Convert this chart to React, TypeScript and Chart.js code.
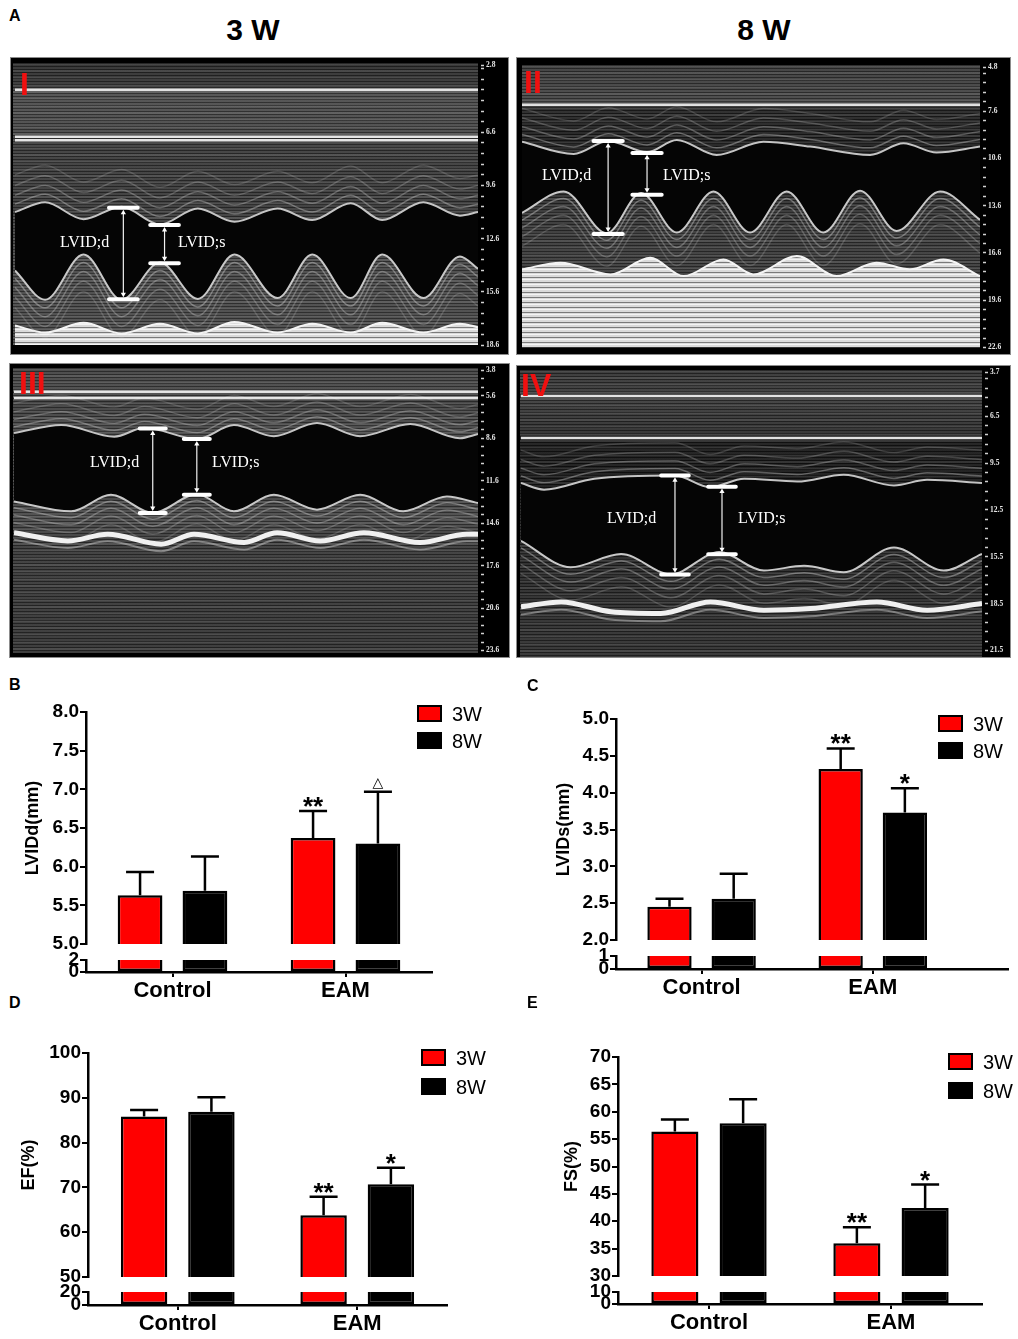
import React, { useEffect, useRef } from 'react';
import { Chart, registerables } from 'chart.js';

Chart.register(...registerables);

const SANS = '"Liberation Sans", Arial, Helvetica, sans-serif';
const SERIF = '"Liberation Serif", "Times New Roman", serif';
Chart.defaults.font.family = SANS;
Chart.defaults.color = '#000';

// ---------------- B–E: bar charts with a broken y axis ----------------
const groups = ['Control', 'EAM'];
const seriesNames = ['3W', '8W'];
const seriesColors = ['#ff0000', '#000000'];

// B  LVIDd (mm)
const lviddMean3W = [5.63, 6.37];
const lviddMean8W = [5.69, 6.3];
const lviddErr3W = [5.93, 6.72]; // top of the error bar
const lviddErr8W = [6.13, 6.97];
const lviddSig3W = ['', '**'];
const lviddSig8W = ['', '\u25B3'];
const lviddTicks = [5.0, 5.5, 6.0, 6.5, 7.0, 7.5, 8.0];
const lviddLowTicks = [0, 2];

// C  LVIDs (mm)
const lvidsMean3W = [2.45, 4.32];
const lvidsMean8W = [2.56, 3.73];
const lvidsErr3W = [2.56, 4.6];
const lvidsErr8W = [2.9, 4.06];
const lvidsSig3W = ['', '**'];
const lvidsSig8W = ['', '*'];
const lvidsTicks = [2.0, 2.5, 3.0, 3.5, 4.0, 4.5, 5.0];
const lvidsLowTicks = [0, 1];

// D  EF (%)
const efMean3W = [85.8, 63.8];
const efMean8W = [86.9, 70.7];
const efErr3W = [87.3, 67.9];
const efErr8W = [90.1, 74.4];
const efSig3W = ['', '**'];
const efSig8W = ['', '*'];
const efTicks = [50, 60, 70, 80, 90, 100];
const efLowTicks = [0, 20];

// E  FS (%)
const fsMean3W = [56.4, 36.0];
const fsMean8W = [57.9, 42.4];
const fsErr3W = [58.6, 38.9];
const fsErr8W = [62.3, 46.7];
const fsSig3W = ['', '**'];
const fsSig8W = ['', '*'];
const fsTicks = [30, 35, 40, 45, 50, 55, 60, 65, 70];
const fsLowTicks = [0, 10];

// ---------------- A: M-mode echo panels (traced wall contours, depth in mm, time in % of sweep) ----------------
const p1Time = [0, 6.5, 14.8, 23, 31.3, 39.5, 47.4, 56.7, 64.2, 72.5, 79.3, 88.2, 96.1, 100];
const p1Septum = [11.1, 10.55, 11.5, 10.8, 11.8, 10.9, 11.65, 10.9, 11.55, 10.6, 11.55, 10.55, 11.3, 11.1];
const p1Posterior = [14.4, 16.05, 13.5, 16.05, 13.95, 16.0, 13.5, 15.95, 13.5, 15.95, 13.5, 15.95, 13.6, 14.3];
const p1Band = [17.5, 17.9, 17.35, 17.95, 17.4, 17.95, 17.3, 17.9, 17.4, 17.9, 17.35, 17.9, 17.4, 17.6];
const p1Lines = [4.2, 6.85, 7.05];
const p1Depth = [2.8, 6.6, 9.6, 12.6, 15.6, 18.6];
const p1LVIDd = [23.4, 10.85, 16.02];
const p1LVIDs = [32.3, 11.83, 13.99];

const p2SeptumTime = [0, 11.3, 18.8, 27.3, 33.8, 42.5, 52.7, 62.9, 76.0, 83.3, 90.5, 100];
const p2Septum = [9.54, 10.32, 9.49, 10.2, 9.43, 10.38, 9.54, 9.85, 10.38, 9.64, 10.23, 9.85];
const p2PosteriorTime = [0, 9.1, 18.5, 26, 33.8, 41.8, 49.8, 57.8, 65.8, 73.8, 81.8, 91.3, 100];
const p2Posterior = [14.06, 12.7, 15.35, 12.8, 15.3, 12.7, 15.3, 12.7, 15.3, 12.65, 15.2, 12.7, 14.5];
const p2BandTime = [0, 8.4, 19.3, 28, 35.3, 44, 50.5, 60, 68.7, 77.4, 84.7, 92, 100];
const p2Band = [17.64, 17.22, 17.96, 16.9, 18.07, 17.01, 17.96, 16.8, 18.07, 17.22, 17.64, 17.01, 18.07];
const p2Lines = [7.2];
const p2Depth = [4.8, 7.6, 10.6, 13.6, 16.6, 19.6, 22.6];
const p2LVIDd = [18.8, 9.49, 15.39];
const p2LVIDs = [27.3, 10.25, 12.9];

const p3SeptumTime = [0, 10.2, 21.6, 28.1, 39.5, 47.4, 56, 65.3, 74.6, 85.4, 96.1, 100];
const p3Septum = [8.22, 7.66, 8.48, 7.85, 8.64, 7.66, 8.45, 7.52, 8.45, 7.59, 8.59, 8.29];
const p3PosteriorTime = [0, 12.3, 20.9, 29.9, 39.4, 47.4, 56, 65.3, 74.6, 83.9, 93.3, 100];
const p3Posterior = [13.06, 13.76, 12.59, 13.87, 12.55, 13.76, 12.59, 13.64, 12.59, 13.76, 12.71, 13.17];
const p3BandTime = [0, 11.6, 20.2, 31.7, 38.8, 49.6, 56.7, 66, 75.4, 87.5, 97.6, 100];
const p3Band = [15.27, 15.85, 15.38, 16.08, 15.38, 15.96, 15.27, 15.85, 15.27, 15.96, 15.38, 15.38];
const p3Lines = [5.3, 5.75];
const p3Depth = [3.8, 5.6, 8.6, 11.6, 14.6, 17.6, 20.6, 23.6];
const p3LVIDd = [29.9, 7.9, 13.87];
const p3LVIDs = [39.4, 8.64, 12.59];

const p4SeptumTime = [0, 5, 15.9, 33.4, 41, 48.4, 59.9, 70, 80.9, 88.1, 100];
const p4Septum = [10.78, 11.2, 10.5, 10.3, 11.05, 10.5, 10.68, 10.25, 10.93, 10.57, 10.78];
const p4PosteriorTime = [0, 10.8, 21.7, 32.5, 43, 52.7, 61.4, 70, 80.9, 91.7, 100];
const p4Posterior = [14.48, 16.17, 15.32, 16.62, 15.2, 16.38, 16.07, 16.49, 14.9, 16.38, 15.32];
const p4BandTime = [0, 8.7, 19.5, 30.3, 41.1, 52.7, 62.8, 77.2, 88.1, 100];
const p4Band = [18.7, 18.39, 19.02, 19.13, 18.39, 18.92, 18.81, 18.39, 18.92, 18.49];
const p4Lines = [5.2, 7.9];
const p4Depth = [3.7, 6.5, 9.5, 12.5, 15.5, 18.5, 21.5];
const p4LVIDd = [33.4, 10.29, 16.64];
const p4LVIDs = [43.6, 11.01, 15.34];

// echo layers drawn parallel to the traced walls (mm away from the cavity)
const wallLayers = [0.45, 0.95, 1.5, 2.1];

// ---------------- layout ----------------
const TOP_PAD = 22;
const X_AXIS_H = 34;

interface BarBox {
  left: number; right: number;
  areaLeft: number; areaTop: number; areaRight: number; areaBottom: number;
  upperBottom: number; lowerTop: number;
  titleX: number; xMax: number;
  legendX: number; legendY: number; legendGap: number;
}

interface BarSpec {
  title: string; decimals: number;
  mean3W: number[]; mean8W: number[]; err3W: number[]; err8W: number[];
  sig3W: string[]; sig8W: string[];
  ticks: number[]; lowTicks: number[];
  box: BarBox;
}

const barSpecs: BarSpec[] = [
  {
    title: 'LVIDd(mm)', decimals: 1,
    mean3W: lviddMean3W, mean8W: lviddMean8W, err3W: lviddErr3W, err8W: lviddErr8W,
    sig3W: lviddSig3W, sig8W: lviddSig8W, ticks: lviddTicks, lowTicks: lviddLowTicks,
    box: { left: 0, right: 509, areaLeft: 86, areaTop: 712, areaRight: 432, areaBottom: 972, upperBottom: 944, lowerTop: 960, titleX: 33, xMax: 1.5, legendX: 417, legendY: 705, legendGap: 27 },
  },
  {
    title: 'LVIDs(mm)', decimals: 1,
    mean3W: lvidsMean3W, mean8W: lvidsMean8W, err3W: lvidsErr3W, err8W: lvidsErr8W,
    sig3W: lvidsSig3W, sig8W: lvidsSig8W, ticks: lvidsTicks, lowTicks: lvidsLowTicks,
    box: { left: 510, right: 1018, areaLeft: 616, areaTop: 719, areaRight: 1008, areaBottom: 969, upperBottom: 940, lowerTop: 956, titleX: 564, xMax: 1.79, legendX: 938, legendY: 715, legendGap: 27 },
  },
  {
    title: 'EF(%)', decimals: 0,
    mean3W: efMean3W, mean8W: efMean8W, err3W: efErr3W, err8W: efErr8W,
    sig3W: efSig3W, sig8W: efSig8W, ticks: efTicks, lowTicks: efLowTicks,
    box: { left: 0, right: 509, areaLeft: 88, areaTop: 1053, areaRight: 447, areaBottom: 1305, upperBottom: 1277, lowerTop: 1292, titleX: 29, xMax: 1.5, legendX: 421, legendY: 1049, legendGap: 29 },
  },
  {
    title: 'FS(%)', decimals: 0,
    mean3W: fsMean3W, mean8W: fsMean8W, err3W: fsErr3W, err8W: fsErr8W,
    sig3W: fsSig3W, sig8W: fsSig8W, ticks: fsTicks, lowTicks: fsLowTicks,
    box: { left: 510, right: 1018, areaLeft: 618, areaTop: 1057, areaRight: 982, areaBottom: 1304, upperBottom: 1276, lowerTop: 1292, titleX: 572, xMax: 1.5, legendX: 948, legendY: 1053, legendGap: 29 },
  },
];

interface EchoSpec {
  id: string;
  frame: number[]; image: number[]; axis: number[];
  depth: number[];
  septumT: number[]; septum: number[];
  posteriorT: number[]; posterior: number[];
  bandT: number[]; band: number[]; bandFill: boolean;
  lines: number[];
  markers: number[][]; capHalf: number;
  numeral: number[]; labelD: number[]; labelS: number[];
  bg: string;
}

const echoSpecs: EchoSpec[] = [
  {
    id: 'I', frame: [10, 57, 509, 355], image: [13, 63, 478, 345], axis: [65, 345], depth: p1Depth,
    septumT: p1Time, septum: p1Septum, posteriorT: p1Time, posterior: p1Posterior, bandT: p1Time, band: p1Band, bandFill: true,
    lines: p1Lines, markers: [p1LVIDd, p1LVIDs], capHalf: 3.1,
    numeral: [20, 68], labelD: [60, 234], labelS: [178, 234],
    bg: 'linear-gradient(180deg, #2c2c2c 0%, #363636 8%, #4e4e4e 10%, #474747 26%, #3c3c3c 30%, #383838 50%, #454545 70%, #4a4a4a 100%)',
  },
  {
    id: 'II', frame: [516, 57, 1011, 355], image: [522, 65, 980, 348], axis: [67, 349], depth: p2Depth,
    septumT: p2SeptumTime, septum: p2Septum, posteriorT: p2PosteriorTime, posterior: p2Posterior, bandT: p2BandTime, band: p2Band, bandFill: true,
    lines: p2Lines, markers: [p2LVIDd, p2LVIDs], capHalf: 3.2,
    numeral: [524, 66], labelD: [542, 167], labelS: [663, 167],
    bg: 'linear-gradient(180deg, #3a3a3a 0%, #464646 13%, #252525 16%, #1c1c1c 27%, #2e2e2e 45%, #3a3a3a 65%, #3c3c3c 100%)',
  },
  {
    id: 'III', frame: [9, 363, 510, 658], image: [13, 368, 478, 653], axis: [369, 652], depth: p3Depth,
    septumT: p3SeptumTime, septum: p3Septum, posteriorT: p3PosteriorTime, posterior: p3Posterior, bandT: p3BandTime, band: p3Band, bandFill: false,
    lines: p3Lines, markers: [p3LVIDd, p3LVIDs], capHalf: 2.8,
    numeral: [19, 367], labelD: [90, 454], labelS: [212, 454],
    bg: 'linear-gradient(180deg, #424242 0%, #4a4a4a 9%, #3e3e3e 12%, #464646 22%, #3c3c3c 45%, #4a4a4a 52%, #3a3a3a 60%, #333 100%)',
  },
  {
    id: 'IV', frame: [516, 365, 1011, 658], image: [520, 370, 982, 657], axis: [372, 653], depth: p4Depth,
    septumT: p4SeptumTime, septum: p4Septum, posteriorT: p4PosteriorTime, posterior: p4Posterior, bandT: p4BandTime, band: p4Band, bandFill: false,
    lines: p4Lines, markers: [p4LVIDd, p4LVIDs], capHalf: 3.0,
    numeral: [521, 369], labelD: [607, 510], labelS: [738, 510],
    bg: 'linear-gradient(180deg, #333 0%, #3c3c3c 10%, #2c2c2c 22%, #1a1a1a 25%, #151515 38%, #222 60%, #2b2b2b 80%, #303030 100%)',
  },
];

const STRIPES = [
  'repeating-linear-gradient(180deg, rgba(0,0,0,0.35) 0px, rgba(0,0,0,0.35) 1px, rgba(255,255,255,0.06) 1px, rgba(255,255,255,0.06) 3px)',
  'repeating-linear-gradient(180deg, rgba(255,255,255,0.07) 0px, rgba(255,255,255,0.07) 2px, rgba(0,0,0,0) 2px, rgba(0,0,0,0) 7px)',
].join(', ');

const pts = (t: number[], d: number[]) => t.map((x, i) => ({ x, y: d[i] }));

const abs = (left: number, top: number, extra: React.CSSProperties = {}): React.CSSProperties => ({
  position: 'absolute', left, top, ...extra,
});

// ---------------- components ----------------
const BarPanel: React.FC<{ spec: BarSpec }> = ({ spec }) => {
  const ref = useRef<HTMLCanvasElement>(null);
  const b = spec.box;
  const top = b.areaTop - TOP_PAD;
  const width = b.right - b.left;
  const height = b.areaBottom + X_AXIS_H - top;

  useEffect(() => {
    const canvas = ref.current;
    if (!canvas) return;
    const upMin = spec.ticks[0];
    const upMax = spec.ticks[spec.ticks.length - 1];
    const lowMax = spec.lowTicks[spec.lowTicks.length - 1];
    const means = [spec.mean3W, spec.mean8W];
    const errs = [spec.err3W, spec.err8W];
    const sigs = [spec.sig3W, spec.sig8W];

    const barStyle = (s: number) => ({
      backgroundColor: seriesColors[s],
      borderColor: '#000',
      borderWidth: 2.5,
      categoryPercentage: 0.75,
      barPercentage: 0.69,
    });

    const datasets: any[] = [
      ...means.map((m, s) => ({
        label: seriesNames[s], yAxisID: 'yUp', stack: seriesNames[s],
        data: m.map((v, i) => ({ x: i, y: [upMin, v] })),
        borderSkipped: 'start', ...barStyle(s),
      })),
      ...means.map((m, s) => ({
        label: seriesNames[s], yAxisID: 'yLow', stack: seriesNames[s],
        data: m.map((v, i) => ({ x: i, y: Math.min(v, lowMax) })),
        borderSkipped: 'end', ...barStyle(s),
      })),
    ];

    const errorBars = {
      id: 'errorBars',
      afterDatasetsDraw(chart: any) {
        const { ctx } = chart;
        const y = chart.scales.yUp;
        ctx.save();
        ctx.strokeStyle = '#000';
        ctx.fillStyle = '#000';
        ctx.lineWidth = 2.5;
        ctx.textAlign = 'center';
        ctx.textBaseline = 'alphabetic';
        means.forEach((_, s) => {
          chart.getDatasetMeta(s).data.forEach((bar: any, i: number) => {
            const yTop = y.getPixelForValue(errs[s][i]);
            ctx.beginPath();
            ctx.moveTo(bar.x, bar.y);
            ctx.lineTo(bar.x, yTop);
            ctx.moveTo(bar.x - 14, yTop);
            ctx.lineTo(bar.x + 14, yTop);
            ctx.stroke();
            const sig = sigs[s][i];
            if (sig === '\u25B3') {
              ctx.font = '14px "DejaVu Sans", sans-serif';
              ctx.fillText(sig, bar.x, yTop - 5);
            } else if (sig) {
              ctx.font = `bold 26px ${SANS}`;
              ctx.fillText(sig, bar.x, yTop + 4);
            }
          });
        });
        ctx.restore();
      },
    };

    const axisGrid = { drawOnChartArea: false, drawTicks: true, tickLength: 6, color: '#000', lineWidth: 2 };
    const axisBorder = { color: '#000', width: 2.5 };
    const yWidth = (s: any) => { s.width = b.areaLeft - b.left; };
    const tickFont = { size: 19, weight: 'bold' };

    const chart = new Chart(canvas, {
      type: 'bar',
      data: { datasets },
      plugins: [errorBars],
      options: {
        responsive: false,
        animation: false,
        events: [],
        layout: { padding: { left: 0, top: TOP_PAD, right: b.right - b.areaRight, bottom: 0 } },
        plugins: { legend: { display: false }, tooltip: { enabled: false } },
        scales: {
          x: {
            type: 'linear', min: -0.5, max: b.xMax, offset: false,
            afterBuildTicks: (s: any) => { s.ticks = groups.map((_, i) => ({ value: i })); },
            afterFit: (s: any) => { s.height = X_AXIS_H; },
            grid: { ...axisGrid, tickLength: 5, offset: false },
            border: axisBorder,
            ticks: {
              autoSkip: false, maxRotation: 0, padding: 1, color: '#000',
              font: { size: 22, weight: 'bold' },
              callback: (v: any) => groups[v] ?? '',
            },
          },
          yUp: {
            type: 'linear', position: 'left', stack: 'y', stackWeight: b.upperBottom - b.areaTop, weight: 3,
            stacked: false, min: upMin, max: upMax,
            afterBuildTicks: (s: any) => { s.ticks = spec.ticks.map((v) => ({ value: v })); },
            afterFit: yWidth,
            grid: axisGrid,
            border: axisBorder,
            ticks: {
              autoSkip: false, padding: 1, color: '#000', font: tickFont,
              callback: (v: any) => Number(v).toFixed(spec.decimals),
            },
            title: {
              display: true, text: spec.title, color: '#000',
              font: { size: 18, weight: 'bold' },
              padding: { top: b.titleX - b.left - 10.8, bottom: 0 },
            },
          },
          yGap: {
            type: 'linear', position: 'left', stack: 'y', stackWeight: b.lowerTop - b.upperBottom, weight: 2,
            display: false, min: 0, max: 1,
          },
          yLow: {
            type: 'linear', position: 'left', stack: 'y', stackWeight: b.areaBottom - b.lowerTop, weight: 1,
            stacked: false, min: 0, max: lowMax,
            afterBuildTicks: (s: any) => { s.ticks = spec.lowTicks.map((v) => ({ value: v })); },
            afterFit: yWidth,
            grid: axisGrid,
            border: axisBorder,
            ticks: {
              autoSkip: false, padding: 1, color: '#000', font: tickFont,
              callback: (v: any) => String(v),
            },
          },
        },
      } as any,
    });
    return () => chart.destroy();
  }, [spec]);

  return (
    <>
      <canvas ref={ref} width={width} height={height} style={abs(b.left, top, { width, height })} />
      {seriesNames.map((name, s) => (
        <React.Fragment key={name}>
          <div
            style={abs(b.legendX, b.legendY + s * b.legendGap, {
              width: 25, height: 17, boxSizing: 'border-box', border: '2.5px solid #000', background: seriesColors[s],
            })}
          />
          <div
            style={abs(b.legendX + 35, b.legendY + s * b.legendGap - 1, {
              fontFamily: SANS, fontSize: 20, lineHeight: '20px', color: '#000', whiteSpace: 'nowrap',
            })}
          >
            {name}
          </div>
        </React.Fragment>
      ))}
    </>
  );
};

const EchoPanel: React.FC<{ p: EchoSpec }> = ({ p }) => {
  const ref = useRef<HTMLCanvasElement>(null);
  const [fl, ft, fr, fb] = p.frame;
  const [il, it, ir, ib] = p.image;
  const cl = fl + 1;
  const ct = ft + 1;
  const cw = fr - fl - 2;
  const ch = fb - ft - 2;

  useEffect(() => {
    const canvas = ref.current;
    if (!canvas) return;
    const ctx = canvas.getContext('2d');
    if (!ctx) return;
    const dMin = p.depth[0];
    const dMax = p.depth[p.depth.length - 1];
    const pxPerMm = (p.axis[1] - p.axis[0]) / (dMax - dMin);
    const inset = 5 / pxPerMm;

    // depth ruler: labelled depths plus five minor steps per labelled interval
    const step = (p.depth[2] - p.depth[1]) / 5;
    const tickVals: number[] = [dMin];
    for (let k = -20; k <= 60; k++) {
      const v = p.depth[1] + k * step;
      if (v > dMin + 0.05 && v <= dMax + 1e-6) tickVals.push(v);
    }
    const isMajor = (v: number) => p.depth.some((d) => Math.abs(d - v) < 0.02);

    // stripe pattern for the bright pericardial band
    const tile = document.createElement('canvas');
    tile.width = 6;
    tile.height = 5;
    const tg = tile.getContext('2d')!;
    tg.fillStyle = '#dadada';
    tg.fillRect(0, 0, 6, 5);
    tg.fillStyle = '#f4f4f4';
    tg.fillRect(0, 1, 6, 1);
    tg.fillStyle = '#7a7a7a';
    tg.fillRect(0, 4, 6, 1);
    const bandPattern = ctx.createPattern(tile, 'repeat');

    const datasets: any[] = [];
    p.markers.forEach(([t, d0, d1]) => {
      datasets.push({
        data: [
          { x: t - p.capHalf, y: d0 }, { x: t + p.capHalf, y: d0 }, { x: t, y: null },
          { x: t - p.capHalf, y: d1 }, { x: t + p.capHalf, y: d1 },
        ],
        borderColor: '#ffffff', borderWidth: 4, borderCapStyle: 'round', pointRadius: 0, spanGaps: false, order: 1,
      });
      datasets.push({
        data: [{ x: t, y: d0 + inset }, { x: t, y: d1 - inset }],
        borderColor: '#f2f2f2', borderWidth: 1.2, pointStyle: 'triangle', pointRadius: 3,
        pointRotation: [0, 180], pointBackgroundColor: '#ffffff', pointBorderColor: '#ffffff', pointBorderWidth: 0, order: 1,
      });
    });
    p.lines.forEach((d) => {
      datasets.push({
        data: [{ x: 0, y: d }, { x: 100, y: d }],
        borderColor: 'rgba(255,255,255,0.85)', borderWidth: 2.5, pointRadius: 0, order: 2,
      });
    });
    // faint echo layers inside the septum and posterior wall, following the traced walls
    wallLayers.forEach((off, k) => {
      const alpha = 0.42 - k * 0.07;
      datasets.push({
        data: pts(p.septumT, p.septum.map((d) => d - off)),
        borderColor: `rgba(200,200,200,${alpha})`, borderWidth: 1.5, pointRadius: 0, cubicInterpolationMode: 'monotone', order: 3,
      });
      datasets.push({
        data: pts(p.posteriorT, p.posterior.map((d) => d + off)),
        borderColor: `rgba(210,210,210,${alpha})`, borderWidth: 1.5, pointRadius: 0, cubicInterpolationMode: 'monotone', order: 3,
      });
    });
    datasets.push({
      data: pts(p.septumT, p.septum),
      borderColor: '#c4c4c4', borderWidth: 2, pointRadius: 0, cubicInterpolationMode: 'monotone', fill: false, order: 3,
    });
    datasets.push({
      data: pts(p.posteriorT, p.posterior),
      borderColor: '#c8c8c8', borderWidth: 2, pointRadius: 0, cubicInterpolationMode: 'monotone',
      fill: '-1', backgroundColor: '#050505', order: 4,
    });
    if (p.bandFill) {
      datasets.push({
        data: pts(p.bandT, p.band),
        borderColor: '#f4f4f4', borderWidth: 2, pointRadius: 0, cubicInterpolationMode: 'monotone',
        fill: { value: dMax }, backgroundColor: bandPattern, order: 5,
      });
    } else {
      datasets.push({
        data: pts(p.bandT, p.band),
        borderColor: '#f0f0f0', borderWidth: 5, pointRadius: 0, cubicInterpolationMode: 'monotone', fill: false, order: 2,
      });
      datasets.push({
        data: pts(p.bandT, p.band.map((d) => d + 0.5)),
        borderColor: 'rgba(220,220,220,0.45)', borderWidth: 2, pointRadius: 0, cubicInterpolationMode: 'monotone', order: 2,
      });
    }

    const chart = new Chart(canvas, {
      type: 'line',
      data: { datasets },
      options: {
        responsive: false,
        animation: false,
        events: [],
        layout: { padding: { left: il - cl, top: p.axis[0] - ct, right: 0, bottom: ct + ch - p.axis[1] } },
        plugins: { legend: { display: false }, tooltip: { enabled: false } },
        scales: {
          x: { type: 'linear', min: 0, max: 100, display: false },
          y: {
            type: 'linear', position: 'right', reverse: true, min: dMin, max: dMax,
            afterBuildTicks: (s: any) => { s.ticks = tickVals.map((v) => ({ value: v })); },
            afterFit: (s: any) => { s.width = cl + cw - ir; },
            grid: {
              drawOnChartArea: false, drawTicks: true, tickLength: 6, tickColor: '#d0d0d0', tickWidth: 1.5,
              tickBorderDash: [3, 3], tickBorderDashOffset: 3,
            },
            border: { display: false },
            ticks: {
              autoSkip: false, padding: 2, color: '#e6e6e6',
              font: { family: SERIF, size: 7.5, weight: 'bold' },
              callback: (v: any) => (isMajor(Number(v)) ? Number(v).toFixed(1) : ''),
            },
          },
        },
      } as any,
    });
    return () => chart.destroy();
  }, [p]);

  return (
    <>
      <div style={abs(fl, ft, { width: fr - fl, height: fb - ft, boxSizing: 'border-box', border: '1px solid #8c8c8c', background: '#000' })} />
      <div style={abs(il, it, { width: ir - il, height: ib - it, background: p.bg })} />
      <div style={abs(il, it, { width: ir - il, height: ib - it, background: STRIPES })} />
      <canvas ref={ref} width={cw} height={ch} style={abs(cl, ct, { width: cw, height: ch })} />
      <div style={abs(p.numeral[0], p.numeral[1], { fontFamily: SANS, fontWeight: 'bold', fontSize: 32, lineHeight: '32px', color: '#f01010' })}>
        {p.id}
      </div>
      <div style={abs(p.labelD[0], p.labelD[1], { fontFamily: SERIF, fontSize: 16, lineHeight: '16px', color: '#fff', whiteSpace: 'nowrap' })}>
        LVID;d
      </div>
      <div style={abs(p.labelS[0], p.labelS[1], { fontFamily: SERIF, fontSize: 16, lineHeight: '16px', color: '#fff', whiteSpace: 'nowrap' })}>
        LVID;s
      </div>
    </>
  );
};

const letterStyle = (left: number, top: number) =>
  abs(left, top, { fontFamily: SANS, fontWeight: 'bold', fontSize: 16, lineHeight: '16px', color: '#000' });

const headStyle = (center: number) =>
  abs(center - 100, 15, { width: 200, textAlign: 'center', fontFamily: SANS, fontWeight: 'bold', fontSize: 30, lineHeight: '30px', color: '#000' });

export default function App() {
  return (
    <div style={{ position: 'absolute', left: 0, top: 0, width: 1018, height: 1339, overflow: 'hidden', background: '#fff' }}>
      <div style={letterStyle(9, 8)}>A</div>
      <div style={headStyle(253)}>3 W</div>
      <div style={headStyle(764)}>8 W</div>
      {echoSpecs.map((p) => (
        <EchoPanel key={p.id} p={p} />
      ))}
      <div style={letterStyle(9, 677)}>B</div>
      <div style={letterStyle(527, 678)}>C</div>
      <div style={letterStyle(9, 995)}>D</div>
      <div style={letterStyle(527, 995)}>E</div>
      {barSpecs.map((s) => (
        <BarPanel key={s.title} spec={s} />
      ))}
    </div>
  );
}
